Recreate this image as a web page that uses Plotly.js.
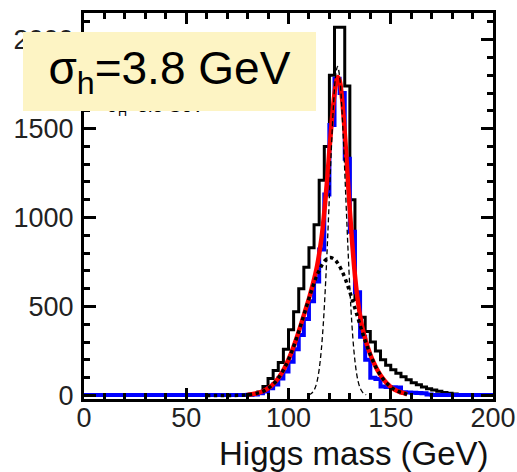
<!DOCTYPE html>
<html>
<head>
<meta charset="utf-8">
<script src="https://cdn.plot.ly/plotly-3.0.1.min.js"></script>
<style>html,body{margin:0;padding:0;background:#fff;}#chart{width:517px;height:472px;}</style>
</head>
<body>
<div id="chart"></div>
<script>
// ---- data ----
const binWidth = 2.5;
// black histogram: left edges start at 80 GeV
const blackStart = 80;
const blackCounts = [3,8,20,50,95,140,185,260,370,470,600,720,830,960,1210,1400,1800,2070,2070,1740,1100,540,440,360,300,250,200,170,145,125,105,88,72,60,48,38,30,23,17,12,8,5,3,1];
// blue histogram: left edges start at 75 GeV
const blueStart = 75;
const blueCounts = [2,3,4,6,12,22,40,62,95,135,190,260,340,430,530,640,820,1130,1520,1780,1700,1330,920,580,330,200,100,92,50,48,46,44,18,16,15,14,12,5];
const blueFloor = 2;
// red fit curve
const redMass = [80,82,84,86,88,90,92,94,96,98,100,102,104,106,108,110,112,114,116,117,118,119,120,121,122,123,124,125,126,127,128,129,130,131,132,133,134,136,138,140,142,144,146,148,150,152,154,156,158];
const redVals = [4,7,11,17,26,40,58,82,114,153,202,259,324,395,470,545,630,730,874,973,1093,1227,1377,1522,1647,1739,1790,1770,1690,1560,1395,1217,1039,878,736,618,524,388,299,230,177,132,97,69,48,32,21,14,6];
// broad component (dotted)
const broadMass = [60,64,68,72,76,80,82,84,86,88,90,92,94,96,98,100,102,104,106,108,110,112,114,116,118,120,122,124,126,128,130,132,134,136,138,140,142,144,146,148,150,152,154,156,158];
const broadVals = [0,0,0,0,1,4,7,11,17,26,40,58,82,114,153,202,259,324,395,470,545,615,677,726,760,775,769,745,703,648,581,508,433,359,291,230,177,132,97,69,48,32,21,14,6];
// narrow component (dashed)
const narrowMass = [110,111,112,113,114,115,116,117,118,119,120,121,122,123,124,125,126,127,128,129,130,131,132,133,134,135,136,137,138];
const narrowVals = [4,9,21,42,81,147,250,400,601,847,1122,1397,1632,1793,1850,1793,1632,1397,1122,847,601,400,250,147,81,42,21,9,4];

const xRange = [0, 200];
const yRange = [-20, 2150];
const xTicks = [0, 50, 100, 150, 200];
const yTicks = [0, 500, 1000, 1500, 2000];

function stepTrace(start, counts, floor, color, width) {
  const xs = [xRange[0]], ys = [floor];
  counts.forEach((c, i) => { xs.push(start + i * binWidth); ys.push(c); });
  xs.push(start + counts.length * binWidth); ys.push(floor);
  xs.push(xRange[1]); ys.push(floor);
  return {x: xs, y: ys, type: 'scatter', mode: 'lines',
          line: {shape: 'hv', color: color, width: width}, hoverinfo: 'skip'};
}

const traces = [
  stepTrace(blackStart, blackCounts, 0, '#000000', 3),
  stepTrace(blueStart, blueCounts, blueFloor, '#0000ff', 4),
  {x: redMass, y: redVals, type: 'scatter', mode: 'lines', line: {color: '#ff0000', width: 4.5, shape: 'spline'}},
  {x: narrowMass, y: narrowVals, type: 'scatter', mode: 'lines', line: {color: '#000000', width: 1.3, dash: '5px,3px', shape: 'spline'}},
  {x: broadMass, y: broadVals, type: 'scatter', mode: 'lines', line: {color: '#000000', width: 3.5, dash: 'dot', shape: 'spline'}}
];

const font = 'Arial, "Liberation Sans", sans-serif';
const axisCommon = {
  showgrid: false, zeroline: false, showline: true, linecolor: '#000', linewidth: 3,
  mirror: 'ticks', ticks: 'inside', tickcolor: '#000', tickwidth: 3,
  tickfont: {family: font, size: 27, color: '#222'}
};

const layout = {
  width: 517, height: 472,
  margin: {l: 84, r: 24, t: 13, b: 73},
  paper_bgcolor: '#fff', plot_bgcolor: '#fff',
  showlegend: false,
  xaxis: Object.assign({}, axisCommon, {range: xRange, tickvals: xTicks, ticklen: 11, ticklabelstandoff: -7,
    minor: {dtick: 10, ticks: 'inside', ticklen: 6, tickwidth: 3, tickcolor: '#000'}}),
  yaxis: Object.assign({}, axisCommon, {range: yRange, tickvals: yTicks, ticklen: 12, ticklabelstandoff: 2,
    minor: {tick0: 0, dtick: 100, ticks: 'inside', ticklen: 6, tickwidth: 3, tickcolor: '#000'}}),
  annotations: [
    {xref: 'paper', yref: 'paper', x: 0.051, y: 0.754, xanchor: 'left', yanchor: 'middle', showarrow: false,
     text: 'σ<sub>H</sub>=3.8 GeV', font: {family: font, size: 18, color: '#000'}},
    {xref: 'paper', yref: 'paper', x: -0.149, y: 0.951, xanchor: 'left', yanchor: 'top', showarrow: false,
     text: 'σ<sub>h</sub>=3.8 GeV', font: {family: font, size: 46, color: '#000'},
     bgcolor: '#fdf4c4', width: 293, height: 79, borderpad: 0, borderwidth: 0, align: 'center'},
    {xref: 'paper', yref: 'paper', x: 0.995, y: -0.14, xanchor: 'right', yanchor: 'middle', showarrow: false,
     text: 'Higgs mass (GeV)', font: {family: font, size: 33, color: '#111'}}
  ]
};

Plotly.newPlot('chart', traces, layout, {staticPlot: true, displayModeBar: false});
</script>
</body>
</html>
